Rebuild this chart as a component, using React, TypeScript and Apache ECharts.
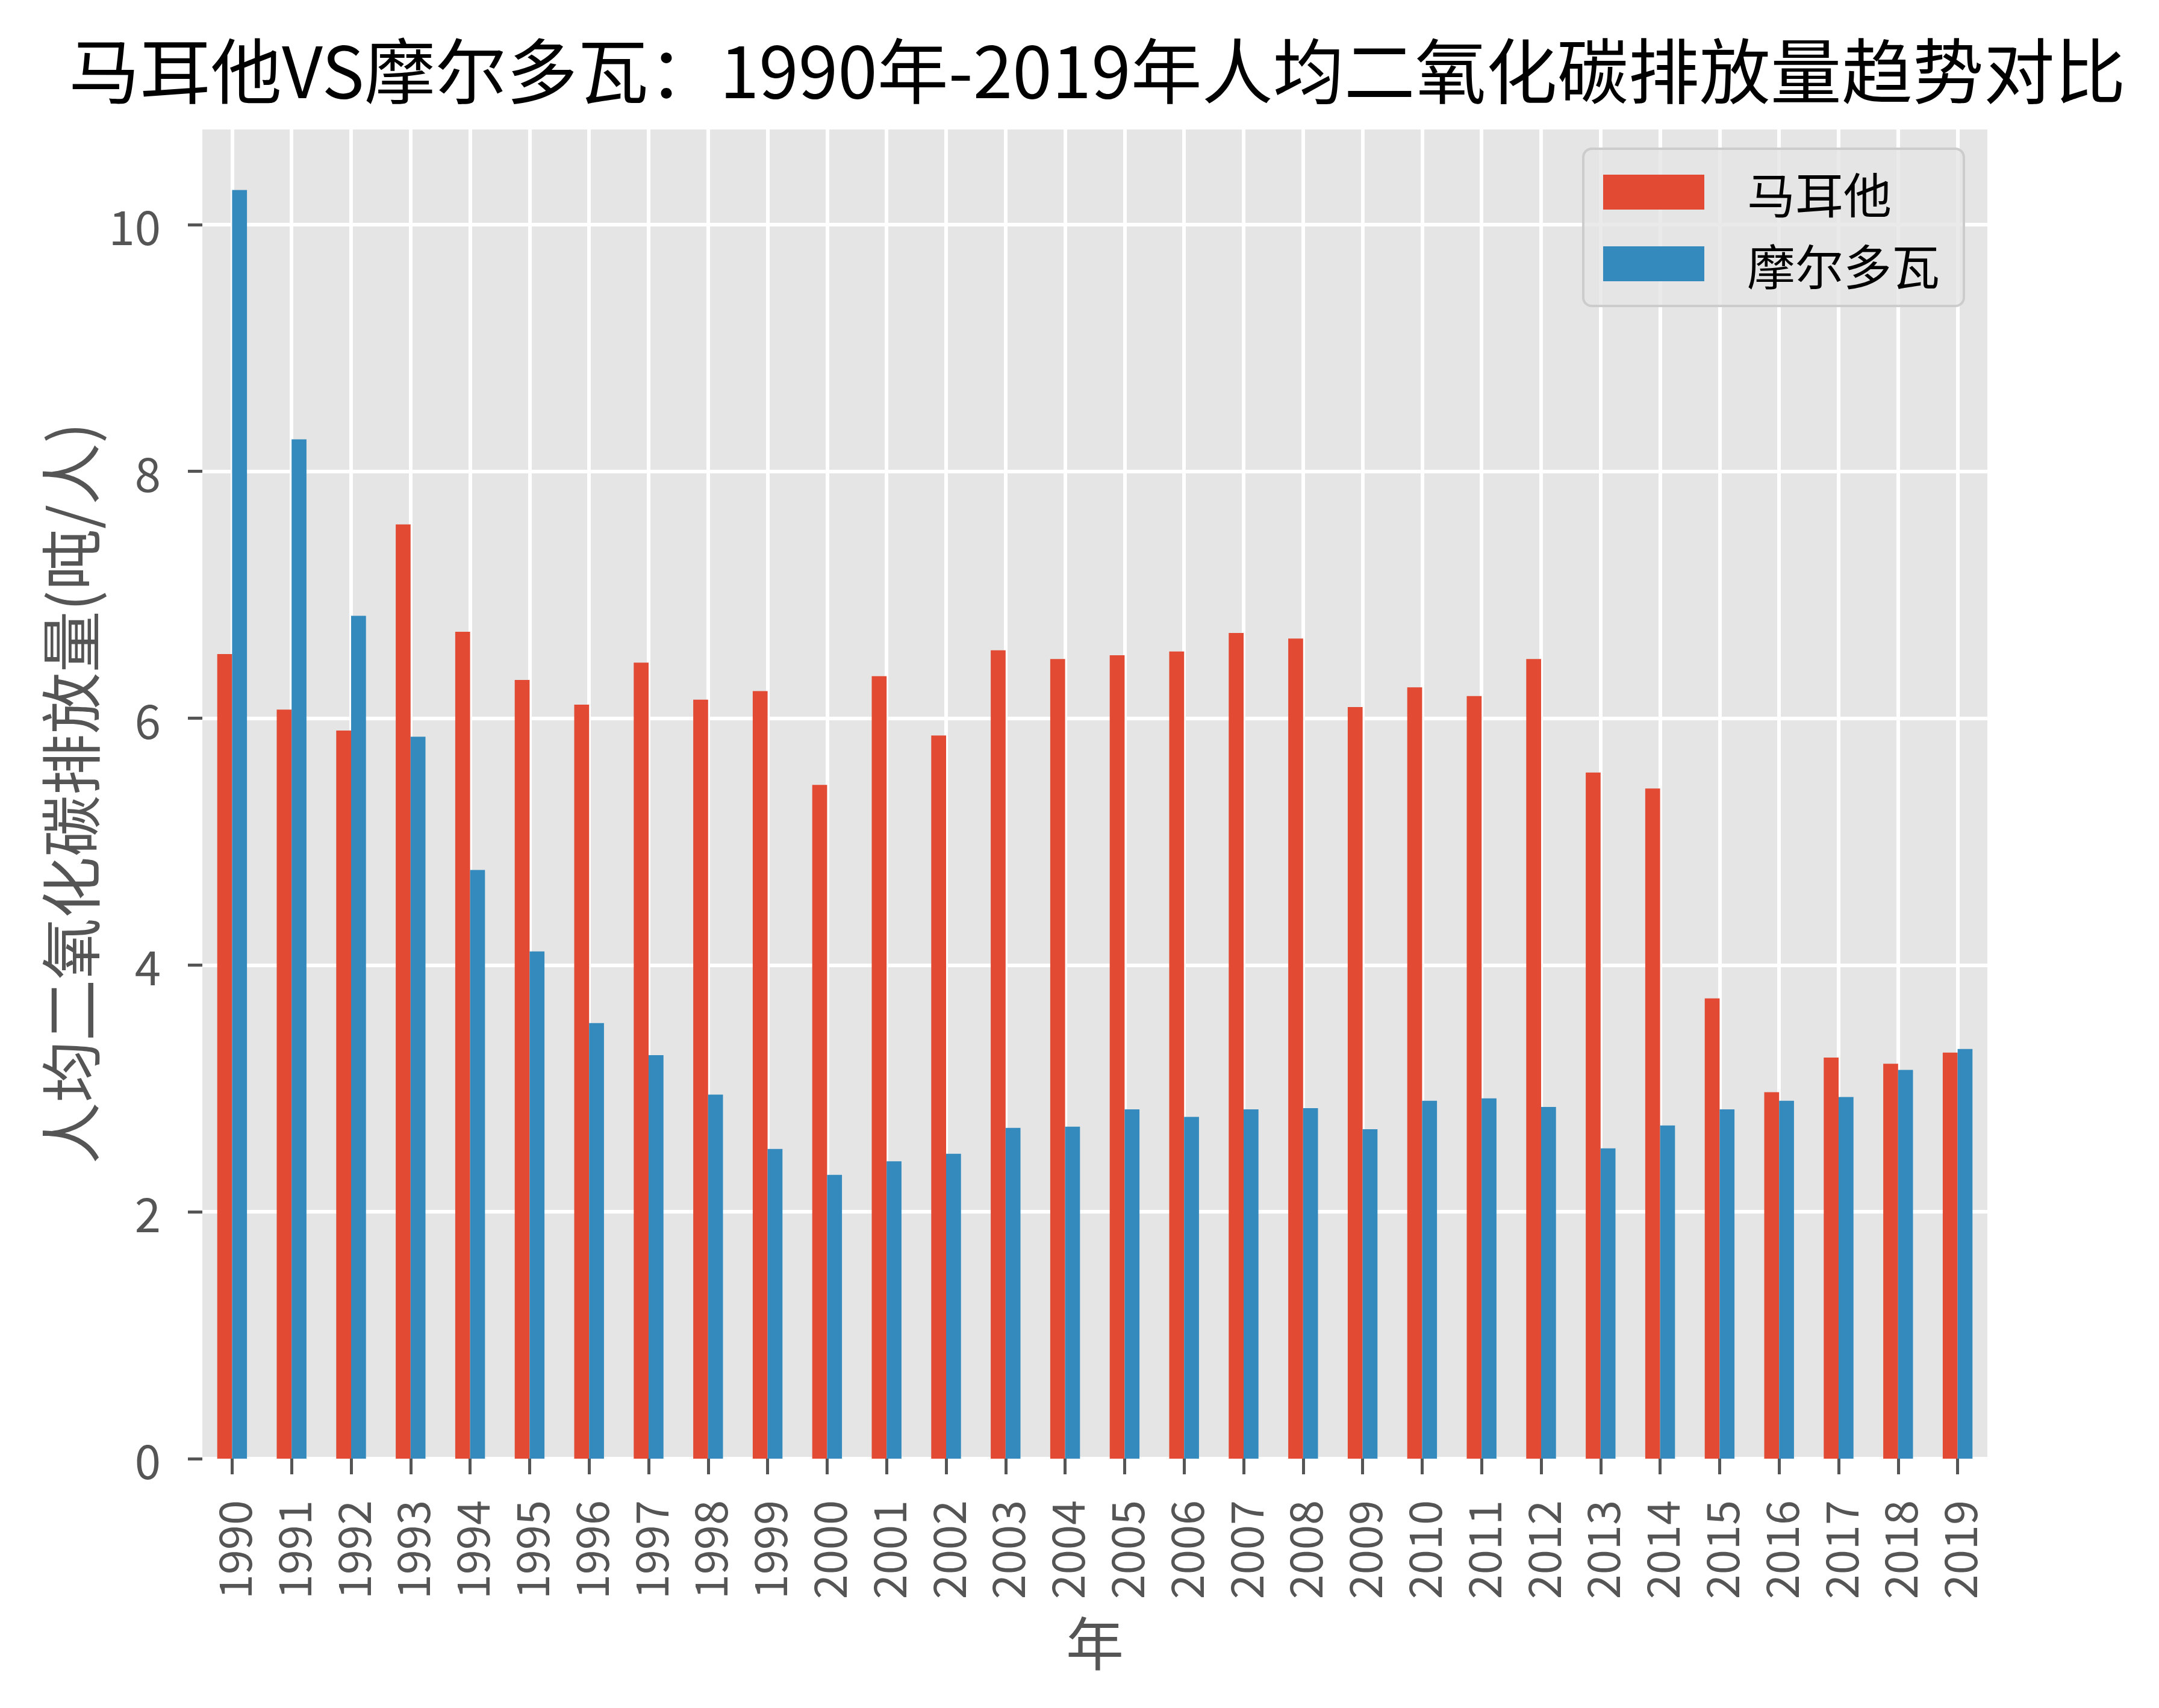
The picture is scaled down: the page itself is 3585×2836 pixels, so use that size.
import React, { useEffect, useRef } from "react";
import * as echarts from "echarts";

const years = [
  "1990", "1991", "1992", "1993", "1994", "1995", "1996", "1997", "1998", "1999",
  "2000", "2001", "2002", "2003", "2004", "2005", "2006", "2007", "2008", "2009",
  "2010", "2011", "2012", "2013", "2014", "2015", "2016", "2017", "2018", "2019",
];

const malta = [
  6.52, 6.07, 5.9, 7.57, 6.7, 6.31, 6.11, 6.45, 6.15, 6.22,
  5.46, 6.34, 5.86, 6.55, 6.48, 6.51, 6.54, 6.69, 6.645, 6.09,
  6.25, 6.18, 6.48, 5.56, 5.43, 3.73, 2.97, 3.25, 3.2, 3.29,
];

const moldova = [
  10.28, 8.26, 6.83, 5.85, 4.77, 4.11, 3.53, 3.27, 2.95, 2.51,
  2.3, 2.41, 2.47, 2.68, 2.69, 2.83, 2.77, 2.83, 2.84, 2.67,
  2.9, 2.92, 2.85, 2.515, 2.7, 2.83, 2.9, 2.93, 3.15, 3.32,
];

const seriesNames = ["马耳他", "摩尔多瓦"];
const titleText = "马耳他VS摩尔多瓦：1990年-2019年人均二氧化碳排放量趋势对比";
const yName = "人均二氧化碳排放量(吨/人)";
const xName = "年";

const FONT = '"Noto Sans CJK SC", "Noto Sans", sans-serif';

export default function App() {
  const ref = useRef<HTMLDivElement>(null);
  useEffect(() => {
    document.body.style.margin = "0";
    const chart = echarts.init(ref.current!, null, { renderer: "svg" });
    chart.setOption({
      animation: false,
      backgroundColor: "#ffffff",
      textStyle: { fontFamily: FONT },
      title: {
        text: titleText,
        left: 114,
        top: 52,
        padding: 0,
        textStyle: { fontFamily: FONT, fontSize: 118, fontWeight: "normal", color: "#000000" },
      },
      legend: {
        data: seriesNames,
        orient: "vertical",
        left: 2629,
        top: 247,
        padding: [32, 40, 30, 33],
        itemWidth: 168,
        itemHeight: 58,
        itemGap: 39,
        icon: "rect",
        backgroundColor: "rgba(229,229,229,0.8)",
        borderColor: "#cccccc",
        borderWidth: 4,
        borderRadius: 14,
        textStyle: { fontFamily: FONT, fontSize: 80, color: "#000000", padding: [0, 0, 0, 66] },
      },
      grid: {
        left: 336,
        right: 285,
        top: 212,
        bottom: 414,
        show: true,
        backgroundColor: "#E5E5E5",
        borderWidth: 0,
        containLabel: false,
      },
      xAxis: [
        {
          type: "category",
          data: years,
          offset: 7,
          boundaryGap: true,
          axisLine: { show: false },
          axisTick: { show: true, alignWithLabel: true, length: 26, lineStyle: { color: "#555555", width: 5 } },
          axisLabel: { rotate: 90, margin: 62, fontSize: 74, color: "#555555", fontFamily: FONT, interval: 0 },
          splitLine: { show: false },
          name: xName,
          nameLocation: "middle",
          nameGap: 246,
          nameTextStyle: { fontSize: 96, color: "#555555", fontFamily: FONT },
        },
        {
          type: "value",
          position: "top",
          min: 0,
          max: 30,
          interval: 1,
          axisLine: { show: false },
          axisTick: { show: false },
          axisLabel: { show: false },
          splitLine: { show: false },
          minorTick: { show: false, splitNumber: 2 },
          minorSplitLine: { show: true, lineStyle: { color: "#ffffff", width: 6 } },
        },
      ],
      yAxis: {
        type: "value",
        min: 0,
        max: 10.785,
        interval: 2,
        offset: 9,
        axisLine: { show: false },
        axisTick: { show: true, length: 24, lineStyle: { color: "#555555", width: 5 } },
        axisLabel: { margin: 60, fontSize: 78, color: "#555555", fontFamily: FONT, showMaxLabel: false },
        splitLine: { show: true, lineStyle: { color: "#ffffff", width: 6 } },
        name: yName,
        nameLocation: "middle",
        nameGap: 164,
        nameRotate: 90,
        nameTextStyle: { fontSize: 102, color: "#555555", fontFamily: FONT },
      },
      series: [
        {
          name: seriesNames[0],
          type: "bar",
          xAxisIndex: 0,
          data: malta,
          barGap: "0%",
          barCategoryGap: "50%",
          itemStyle: { color: "#E24A33" },
          z: 3,
        },
        {
          name: seriesNames[1],
          type: "bar",
          xAxisIndex: 0,
          data: moldova,
          barGap: "0%",
          barCategoryGap: "50%",
          itemStyle: { color: "#348ABD" },
          z: 3,
        },
      ],
    });
    return () => chart.dispose();
  }, []);
  return <div ref={ref} style={{ width: 3585, height: 2836 }} />;
}
